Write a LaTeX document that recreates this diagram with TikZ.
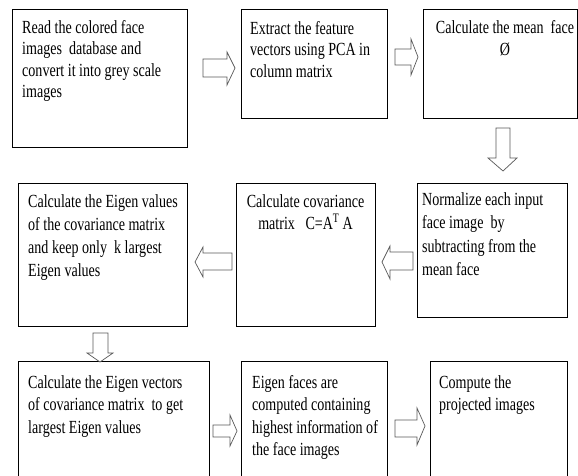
\documentclass[tikz,border=0pt]{standalone}
\usepackage{fontspec}
\setmainfont{Liberation Serif}[FakeStretch=0.76]
\begin{document}
\begin{tikzpicture}[x=1pt,y=-1pt,
  box/.style={draw=black,line width=0.9pt,anchor=north west,inner sep=0pt,outer sep=0pt},
  txt/.style={anchor=north west,inner sep=0pt,align=left,font=\fontsize{18.5}{21.5}\selectfont},
  ctxt/.style={anchor=north,inner sep=0pt,align=center,font=\fontsize{18.5}{22}\selectfont},
  barrow/.style={draw=black!65,line width=0.7pt,fill=white,line join=miter}]
\clip (0,0) rectangle (578,476);
\useasboundingbox (0,0) rectangle (578,476);
% row 1
\node[box,minimum width=175pt,minimum height=138pt] (b1) at (12,9) {};
\node[box,minimum width=146pt,minimum height=109pt] (b2) at (241,9) {};
\node[box,minimum width=154pt,minimum height=109pt] (b3) at (423,9) {};
% row 2
\node[box,minimum width=169pt,minimum height=143pt] (b4) at (18,183) {};
\node[box,minimum width=139pt,minimum height=143pt] (b5) at (236,183) {};
\node[box,minimum width=150pt,minimum height=134pt] (b6) at (417,183) {};
% row 3
\node[box,minimum width=191pt,minimum height=130pt] (b7) at (18,361) {};
\node[box,minimum width=146pt,minimum height=130pt] (b8) at (241,361) {};
\node[box,minimum width=137pt,minimum height=130pt] (b9) at (430,361) {};
% texts
\node[txt] (t1) at (22,20) {Read the colored face\\images\ \ database and\\convert it into grey scale\\images};
\node[txt] (t2) at (250,21) {Extract the feature\\vectors using PCA in\\column matrix};
\node[ctxt] (t3) at (505,20) {Calculate the mean\ \ face\\Ø};
\node[txt,font=\fontsize{18.5}{23}\selectfont] (t4) at (28,194) {Calculate the Eigen values\\of the covariance matrix\\and keep only\ \ k largest\\Eigen values};
\node[ctxt] (t5) at (305.5,194) {Calculate covariance\\matrix\ \ \ C=A\textsuperscript{T}\,A};
\node[txt,font=\fontsize{18.5}{23.5}\selectfont] (t6) at (422,192) {Normalize each input\\face image\ \ by\\subtracting from the\\mean face};
\node[txt,font=\fontsize{18.5}{22.5}\selectfont] (t7) at (28,375) {Calculate the Eigen vectors\\of covariance matrix\ \ to get\\largest Eigen values};
\node[txt,font=\fontsize{18.5}{22.5}\selectfont] (t8) at (252,375) {Eigen faces are\\computed containing\\highest information of\\the face images};
\node[txt,font=\fontsize{18.5}{22.5}\selectfont] (t9) at (439,375) {Compute the\\projected images};
% block arrows
\draw[barrow] (203,59) -- (227,59) -- (227,52) -- (235,68) -- (227,85) -- (227,77) -- (203,77) -- cycle;
\draw[barrow] (395,49) -- (411,49) -- (411,39) -- (418,57) -- (411,75) -- (411,65) -- (395,65) -- cycle;
\draw[barrow] (496,128) -- (510,128) -- (510,158) -- (517,158) -- (503,171) -- (488,158) -- (496,158) -- cycle;
\draw[barrow] (232,253) -- (203,253) -- (203,247) -- (195,262) -- (203,277) -- (203,270) -- (232,270) -- cycle;
\draw[barrow] (413,252) -- (390,252) -- (390,246) -- (382,262) -- (390,279) -- (390,270) -- (413,270) -- cycle;
\draw[barrow] (93,333) -- (108,333) -- (108,353) -- (113,353) -- (100,362) -- (87,353) -- (93,353) -- cycle;
\draw[barrow] (213,425) -- (230,425) -- (230,415) -- (237,431) -- (230,446) -- (230,437) -- (213,437) -- cycle;
\draw[barrow] (395,420) -- (417,420) -- (417,408) -- (425,426) -- (417,445) -- (417,437) -- (395,437) -- cycle;
\end{tikzpicture}
\end{document}
